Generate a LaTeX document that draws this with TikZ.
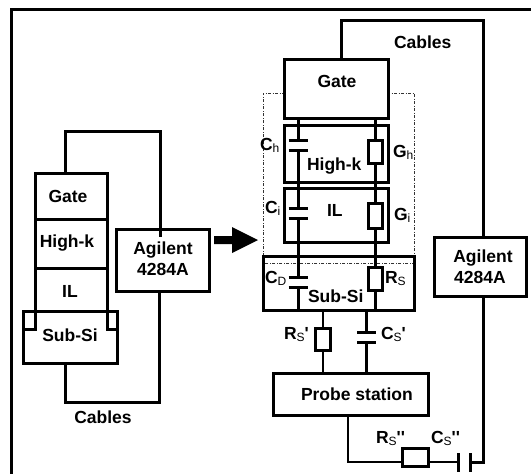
\documentclass[tikz,border=0pt]{standalone}
\usepackage{fontspec}
\newfontfamily\lab{Liberation Sans}
\newcommand{\sbs}[1]{{\fontsize{12}{12}\selectfont\mdseries\raisebox{-2.5pt}{#1}}}
\tikzset{
  x=1pt,y=-1pt,
  boxn/.style={draw,line width=3pt,fill=white,inner sep=0pt,outer sep=0pt},
  thinbox/.style={boxn,line width=3pt},
  rbox/.style={boxn,line width=3pt},
  txt/.style={font=\lab\bfseries\fontsize{17.5}{20}\selectfont,inner sep=0pt,outer sep=0pt,text=black},
  tl/.style={txt,anchor=base west},
  tc/.style={txt,anchor=base},
  wire/.style={line width=3pt,line join=miter},
  wirethin/.style={line width=2.5pt,line join=miter},
  frameline/.style={line width=3pt},
  plate/.style={line width=3pt},
  plthin/.style={line width=2.6pt},
  dd/.style={line width=.7pt,dash pattern=on 3pt off 1.5pt on 1pt off 1.5pt,draw=black!80},
}
% name, x1, y1, x2, y2, style
\newcommand{\bx}[6]{\node[#6,minimum width={(#4-#2)*1pt},minimum height={(#5-#3)*1pt}] (#1) at ({(#2+#4)/2},{(#3+#5)/2}) {};}
\begin{document}
\begin{tikzpicture}
\useasboundingbox (0,0) rectangle (531,474);
\fill[white] (0,0) rectangle (531,474);
% outer frame
\coordinate (fa) at (11.5,474);
\coordinate (fb) at (11.5,9.5);
\coordinate (fc) at (531,9.5);
\draw[frameline] (fa) -- (fb) -- (fc);

% ---------- left stack ----------
\bx{lgate}{35}{173}{107}{219}{thinbox}
\bx{lhigh}{35}{219}{107}{268}{thinbox}
\bx{lil}{35}{268}{107}{311}{thinbox}
\bx{lsub}{23}{311}{117}{363}{thinbox}
\bx{lag}{116}{229}{209}{291}{thinbox}
\coordinate (lna) at (24,329);
\coordinate (lnb) at (116,329);
\draw[wire] (lil.south west) -- (35,329) -- (lna);
\draw[wire] (lil.south east) -- (107,329) -- (lnb);
\coordinate (lta) at (65,131);
\coordinate (ltb) at (160,131);
\coordinate (ltc) at (160,237);
\draw[wire] (lgate.north -| lta) -- (lta) -- (ltb) -- (ltc);
\coordinate (lba) at (65,402);
\coordinate (lbb) at (159,402);
\draw[wire] (lag.south -| lbb) -- (lbb) -- (lba) -- (lsub.south -| lba);
\node[tc] (tlgate) at (68,202) {Gate};
\node[tc] (tlhigh) at (67,247) {High-k};
\node[tc] (tlil) at (70,297) {IL};
\node[tc] (tlsub) at (70,341) {Sub-Si};
\node[tc] (tlag1) at (163,254) {Agilent};
\node[tc] (tlag2) at (163,275) {4284A};
\node[tc] (tlcab) at (103,423) {Cables};

% block arrow
\fill[black] (214,236) -- (232,236) -- (232,227) -- (258,240) -- (232,253) -- (232,244) -- (214,244) -- cycle;

% ---------- right circuit ----------
\draw[dd] (263,263) -- (263,93) -- (414,93) -- (414,263) -- cycle;
\bx{rgate}{284}{59}{388}{118}{rbox}
\bx{rhigh}{284}{125}{388}{182}{rbox,fill=none}
\bx{ril}{284}{188}{388}{242}{rbox,fill=none}
\bx{rsub}{263}{256}{414}{310}{rbox,fill=none}
\bx{rprobe}{273}{373}{428}{415}{rbox}
\bx{rag}{434}{237}{526}{296}{rbox}

% left branch with capacitors
\coordinate (wl) at (298,0);
\coordinate (wr) at (375,0);
\coordinate (ch1) at (298,140);
\coordinate (ch2) at (298,150);
\coordinate (ci1) at (298,208);
\coordinate (ci2) at (298,218);
\coordinate (cd1) at (298,277);
\coordinate (cd2) at (298,287);
\draw[wire] (rgate.south -| wl) -- (ch1);
\draw[wire] (ch2) -- (ci1);
\draw[wire] (ci2) -- (cd1);
\draw[wire] (cd2) -- (rsub.south -| wl);
\foreach \c in {ch1,ch2,ci1,ci2,cd1,cd2}{
  \draw[plate] ([xshift=-9.5pt]\c) -- ([xshift=9.5pt]\c);
}
% right branch with resistors
\bx{gh}{368}{140}{382}{163}{rbox}
\bx{gi}{368}{203}{382}{228}{rbox}
\bx{rs}{368}{267}{382}{290}{rbox}
\draw[wire] (rgate.south -| wr) -- (gh.north -| wr);
\draw[wire] (gh.south -| wr) -- (gi.north -| wr);
\draw[wire] (gi.south -| wr) -- (rs.north -| wr);
\draw[wire] (rs.south -| wr) -- (rsub.south -| wr);

% sub-Si to probe station
\bx{rsp}{315}{328}{330}{350}{rbox}
\coordinate (wp) at (323,0);
\coordinate (wq) at (366.5,0);
\coordinate (cs1) at (366.5,332);
\coordinate (cs2) at (366.5,342);
\draw[wirethin] (rsub.south -| wp) -- (rsp.north -| wp);
\draw[wirethin] (rsp.south -| wp) -- (rprobe.north -| wp);
\draw[wirethin] (rsub.south -| wq) -- (cs1);
\draw[wirethin] (cs2) -- (rprobe.north -| wq);
\draw[plate] ([xshift=-9.5pt]cs1) -- ([xshift=9.5pt]cs1);
\draw[plate] ([xshift=-9.5pt]cs2) -- ([xshift=9.5pt]cs2);

% probe station to Agilent
\bx{rspp}{402}{448}{428}{466}{rbox}
\coordinate (bw) at (348,462);
\coordinate (cp1) at (458.5,462);
\coordinate (cp2) at (470.5,462);
\coordinate (bend) at (483,462);
\draw[wirethin] (rprobe.south -| bw) -- (bw) -- (bw -| rspp.west);
\draw[wirethin] (bw -| rspp.east) -- (cp1);
\draw[plthin] (458.5,453) -- (458.5,472);
\draw[plthin] (470.5,453) -- (470.5,472);
\draw[wire] (cp2) -- (bend) -- (rag.south -| bend);

% top cable
\coordinate (tc1) at (341,20);
\coordinate (tc2) at (483,20);
\draw[wire] (rgate.north -| tc1) -- (tc1) -- (tc2) -- (rag.north -| tc2);

% right labels
\node[tl] (tcab) at (394,48) {Cables};
\node[tc] (tgate) at (337,87) {Gate};
\node[tl] (thigh) at (307,170) {High-k};
\node[tl] (til) at (327,216) {IL};
\node[tl] (tsub) at (308,302) {Sub-Si};
\node[tl] (tprobe) at (301,400) {Probe station};
\node[tc] (tag1) at (483,262) {Agilent};
\node[tc] (tag2) at (480,283) {4284A};
\node[tl] (tch) at (260,150) {C\sbs{h}};
\node[tl] (tgh) at (393,157) {G\sbs{h}};
\node[tl] (tci) at (265,213) {C\sbs{i}};
\node[tl] (tgi) at (394,220) {G\sbs{i}};
\node[tl] (tcd) at (265,283) {C\sbs{D}};
\node[tl] (trs) at (385,283) {R\sbs{S}};
\node[tl] (trsp) at (284,339) {R\sbs{S}'};
\node[tl] (tcsp) at (381,339) {C\sbs{S}'};
\node[tl] (trspp) at (376,443) {R\sbs{S}''};
\node[tl] (tcspp) at (431,443) {C\sbs{S}''};
\end{tikzpicture}
\end{document}
